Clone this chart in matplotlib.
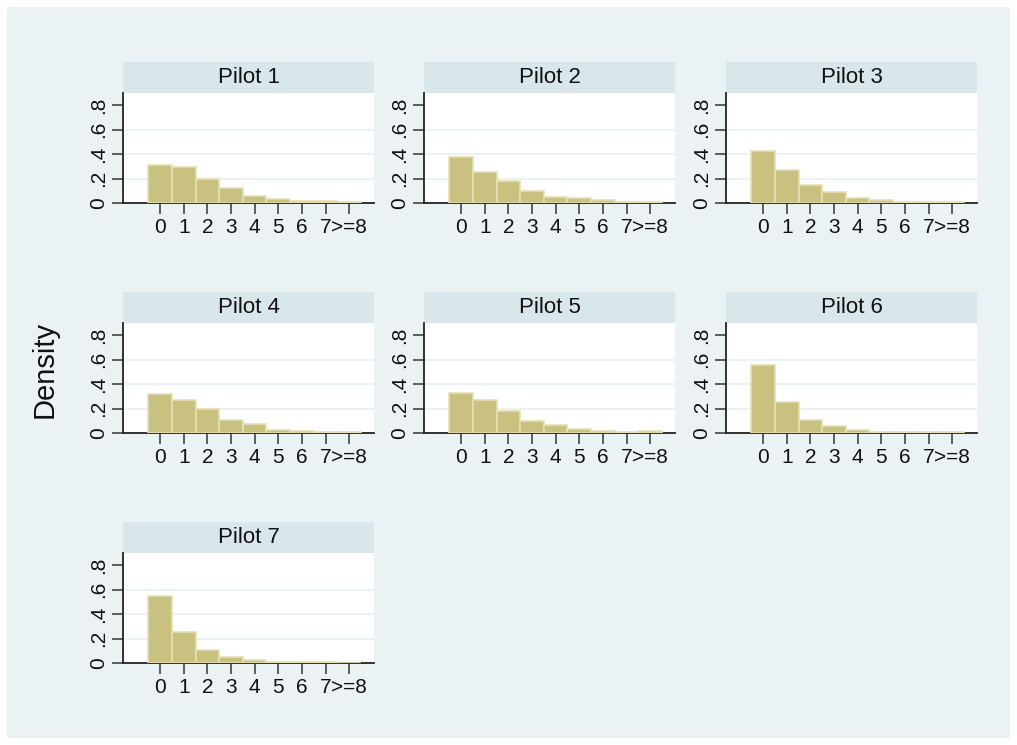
import numpy as np
import matplotlib.pyplot as plt
from matplotlib.patches import Rectangle

plt.rcParams['font.family'] = ['Liberation Sans', 'DejaVu Sans']

# density of counts per pilot (0..7 and >=8)
categories = ['0', '1', '2', '3', '4', '5', '6', '7', '>=8']
pilot1 = [0.309, 0.296, 0.195, 0.122, 0.054, 0.035, 0.016, 0.016, 0.011]
pilot2 = [0.372, 0.252, 0.176, 0.098, 0.052, 0.038, 0.027, 0.011, 0.011]
pilot3 = [0.426, 0.271, 0.149, 0.092, 0.043, 0.027, 0.008, 0.008, 0.008]
pilot4 = [0.317, 0.268, 0.193, 0.106, 0.073, 0.027, 0.014, 0.011, 0.011]
pilot5 = [0.323, 0.271, 0.179, 0.098, 0.068, 0.035, 0.014, 0.008, 0.014]
pilot6 = [0.553, 0.255, 0.106, 0.054, 0.024, 0.011, 0.008, 0.008, 0.008]
pilot7 = [0.550, 0.252, 0.106, 0.046, 0.022, 0.011, 0.005, 0.005, 0.002]
pilots = [pilot1, pilot2, pilot3, pilot4, pilot5, pilot6, pilot7]
ytick_vals = [0, 0.2, 0.4, 0.6, 0.8]
ytick_labels = ['0', '.2', '.4', '.6', '.8']

W, H = 1017, 745
fig = plt.figure(figsize=(W / 100, H / 100), dpi=100, facecolor='white')

# Stata-like outer region
fig.patches.append(Rectangle((7 / W, 7 / H), (W - 14) / W, (H - 14) / H,
                             transform=fig.transFigure, facecolor='#EAF2F3',
                             edgecolor='none', zorder=-10))

col_left = [123, 424, 726]
row_base = [203, 433, 663]
aw, ah, strip_h = 251, 110, 31
bar_color = '#C8C180'
edge_color = '#E6E0B4'
x = np.arange(len(categories))

for i, vals in enumerate(pilots):
    r, c = divmod(i, 3)
    left = col_left[c]
    base = row_base[r]
    ax = fig.add_axes([left / W, 1 - base / H, aw / W, ah / H])
    ax.set_facecolor('white')
    ax.bar(x, vals, width=1.0, color=bar_color, edgecolor=edge_color,
           linewidth=1.2, zorder=3)
    ax.set_xlim(-1.57, 9.05)
    ax.set_ylim(0, 0.898)
    for g in [0.2, 0.4, 0.6]:
        ax.axhline(g, color='#EAF2F3', linewidth=1.5, zorder=1)
    ax.set_xticks(x)
    ax.set_xticklabels(categories, fontsize=15)
    ax.set_yticks(ytick_vals)
    ax.set_yticklabels(ytick_labels, fontsize=15, rotation=90, va='center')
    ax.tick_params(axis='both', length=8, width=1.2, color='#444444',
                   labelcolor='#111111', pad=3)
    for s in ['top', 'right']:
        ax.spines[s].set_visible(False)
    for s in ['left', 'bottom']:
        ax.spines[s].set_color('#222222')
        ax.spines[s].set_linewidth(1.3)
    # title strip
    ax.add_patch(Rectangle((0, 1), 1, strip_h / ah, transform=ax.transAxes,
                           facecolor='#D9E6EB', edgecolor='none',
                           clip_on=False, zorder=2))
    ax.text(0.5, 1 + strip_h / ah / 2, 'Pilot %d' % (i + 1), transform=ax.transAxes,
            ha='center', va='center', fontsize=16, color='#111111')

fig.text(45 / W, 1 - 369 / H, 'Density', rotation=90, ha='center', va='center',
         fontsize=21, color='#111111')

fig.savefig('out.png', dpi=100, facecolor='white')
